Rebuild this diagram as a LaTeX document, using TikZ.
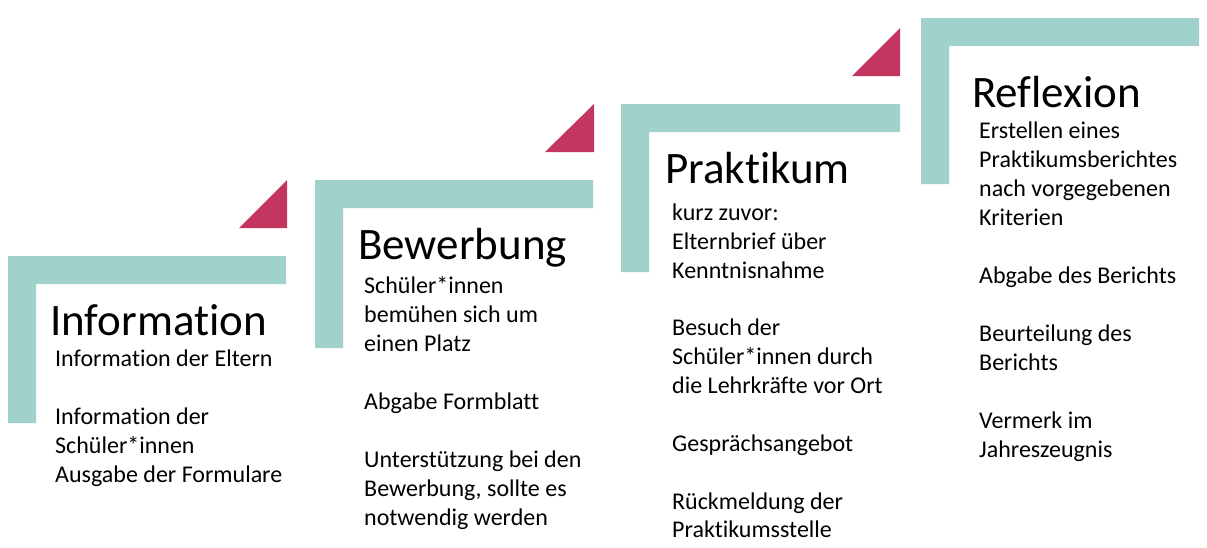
\documentclass[tikz,border=0pt]{standalone}
\usepackage{fontspec}
\setmainfont{Carlito}[Ligatures={NoCommon,NoContextual}]
\definecolor{barcol}{HTML}{A0D1CA}
\definecolor{tricol}{HTML}{C3365F}
\begin{document}
\begin{tikzpicture}[x=1pt,y=-1pt,
  band/.style={fill=barcol},
  corner/.style={fill=tricol},
  title/.style={anchor=base west,inner sep=0pt,font=\fontsize{45}{54}\selectfont},
  body/.style={anchor=base west,inner sep=0pt,font=\fontsize{24}{29}\selectfont}]
\useasboundingbox (0,0) rectangle (1207,547);
% L-shaped bands
\fill[band] (8,256) -- ++(278,0) -- ++(0,28) -- ++(-250,0) -- ++(0,139) -- ++(-28,0) -- cycle;
\fill[band] (315,180) -- ++(278,0) -- ++(0,28) -- ++(-250,0) -- ++(0,140) -- ++(-28,0) -- cycle;
\fill[band] (621,104) -- ++(279,0) -- ++(0,28) -- ++(-251,0) -- ++(0,140) -- ++(-28,0) -- cycle;
\fill[band] (921,18) -- ++(278,0) -- ++(0,28) -- ++(-250,0) -- ++(0,138) -- ++(-28,0) -- cycle;
% triangles
\fill[corner] (239,228) -- (287,180) -- (287,228) -- cycle;
\fill[corner] (545,152) -- (594,104) -- (594,152) -- cycle;
\fill[corner] (852,76) -- (900,28) -- (900,76) -- cycle;
% step 1
\node[title] (t1) at (50,335) {Information};
\node[body] (a1) at (55,366) {Information der Eltern};
\node[body] (a2) at (55,424) {Information der};
\node[body] (a3) at (55,453) {Schüler*innen};
\node[body] (a4) at (55,482) {Ausgabe der Formulare};
% step 2
\node[title] (t2) at (358,259) {Bewerbung};
\node[body] (b1) at (364,293) {Schüler*innen};
\node[body] (b2) at (364,322) {bemühen sich um};
\node[body] (b3) at (364,351) {einen Platz};
\node[body] (b4) at (364,409) {Abgabe Formblatt};
\node[body] (b5) at (364,467) {Unterstützung bei den};
\node[body] (b6) at (364,496) {Bewerbung, sollte es};
\node[body] (b7) at (364,525) {notwendig werden};
% step 3
\node[title] (t3) at (665,183) {Praktikum};
\node[body] (c1) at (672,220) {kurz zuvor:};
\node[body] (c2) at (672,249) {Elternbrief über};
\node[body] (c3) at (672,278) {Kenntnisnahme};
\node[body] (c4) at (672,335) {Besuch der};
\node[body] (c5) at (672,364) {Schüler*innen durch};
\node[body] (c6) at (672,393) {die Lehrkräfte vor Ort};
\node[body] (c7) at (672,451) {Gesprächsangebot};
\node[body] (c8) at (672,509) {Rückmeldung der};
\node[body] (c9) at (672,537) {Praktikumsstelle};
% step 4
\node[title] (t4) at (972,107) {Reflexion};
\node[body] (d1) at (979,138) {Erstellen eines};
\node[body] (d2) at (979,167) {Praktikumsberichtes};
\node[body] (d3) at (979,196) {nach vorgegebenen};
\node[body] (d4) at (979,225) {Kriterien};
\node[body] (d5) at (979,283) {Abgabe des Berichts};
\node[body] (d6) at (979,341) {Beurteilung des};
\node[body] (d7) at (979,370) {Berichts};
\node[body] (d8) at (979,428) {Vermerk im};
\node[body] (d9) at (979,457) {Jahreszeugnis};
\end{tikzpicture}
\end{document}
